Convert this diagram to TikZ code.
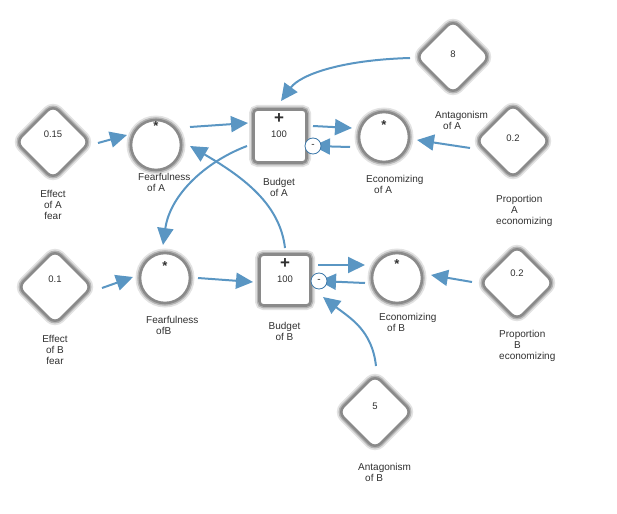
\documentclass[tikz,border=0pt]{standalone}
\usepackage{fontspec}
\setmainfont{Liberation Sans}
\usetikzlibrary{arrows.meta,shapes.geometric}
\pgfdeclarelayer{front}
\pgfsetlayers{main,front}

\definecolor{flowblue}{HTML}{5A96C3}
\definecolor{ringblue}{HTML}{3C78AA}
\definecolor{inkgray}{HTML}{303030}
\definecolor{rimgray}{HTML}{8A8A8A}
\definecolor{halogray}{HTML}{B4B4B4}
\definecolor{mistgray}{HTML}{E2E2E2}

\tikzset{
  rim/.style={fill=white, draw=rimgray, line width=2.6pt, outer sep=0pt, inner sep=0pt,
    preaction={draw=mistgray, line width=9pt},
    preaction={draw=halogray, line width=5.5pt}},
  constnode/.style={rim, diamond, minimum width=74pt, minimum height=74pt, rounded corners=8pt},
  auxnode/.style={rim, circle, minimum size=50pt},
  stocknode/.style={rim, rectangle, minimum width=53pt, minimum height=53pt, rounded corners=4pt},
  negdot/.style={circle, fill=white, draw=ringblue, line width=0.8pt, minimum size=16pt,
    inner sep=0pt, font=\fontsize{10}{10}\selectfont, text=inkgray},
  valtext/.style={inner sep=0pt, font=\fontsize{9.5}{10}\selectfont, text=inkgray},
  symtext/.style={inner sep=0pt, font=\fontsize{13}{13}\selectfont\bfseries, text=inkgray},
  plustext/.style={inner sep=0pt, font=\fontsize{17}{17}\selectfont\bfseries, text=inkgray},
  namelabel/.style={inner sep=0pt, align=left, font=\fontsize{10}{11}\selectfont, text=inkgray},
  flow/.style={draw=flowblue, line width=2pt, -{Triangle[length=17pt,width=16pt]}},
}

\begin{document}
\begin{tikzpicture}[x=1pt,y=-1pt]
\useasboundingbox (0,0) rectangle (617,513);

% model elements
\node[constnode] (effA) at (53,142) {};
\node[auxnode] (fearA) at (156,145) {};
\node[stocknode] (budA) at (280,136) {};
\node[auxnode] (econA) at (384,137) {};
\node[constnode] (antA) at (453,57) {};
\node[constnode] (propA) at (513,141) {};

\node[constnode] (effB) at (55,287) {};
\node[auxnode] (fearB) at (165,278) {};
\node[stocknode, minimum width=51pt, minimum height=51pt] (budB) at (285,280) {};
\node[auxnode] (econB) at (397,278) {};
\node[constnode] (propB) at (517,283) {};
\node[constnode] (antB) at (375,412) {};

% values and operators inside the elements
\node[valtext] (effAv) at ([shift={(0,-8)}]effA.center) {0.15};
\node[valtext] (antAv) at ([shift={(0,-3)}]antA.center) {8};
\node[valtext] (propAv) at ([shift={(0,-3)}]propA.center) {0.2};
\node[valtext] (effBv) at ([shift={(0,-8)}]effB.center) {0.1};
\node[valtext] (propBv) at ([shift={(0,-10)}]propB.center) {0.2};
\node[valtext] (antBv) at ([shift={(0,-6)}]antB.center) {5};

\node[symtext] (fearAs) at ([shift={(0,-19)}]fearA.center) {*};
\node[symtext] (econAs) at ([shift={(0,-12)}]econA.center) {*};
\node[symtext] (fearBs) at ([shift={(0,-12)}]fearB.center) {*};
\node[symtext] (econBs) at ([shift={(0,-14)}]econB.center) {*};

\node[plustext] (budAp) at ([shift={(-1,-17)}]budA.center) {+};
\node[valtext] (budAv) at ([shift={(-1,-2)}]budA.center) {100};
\node[plustext] (budBp) at ([shift={(0,-16)}]budB.center) {+};
\node[valtext] (budBv) at ([shift={(0,-1)}]budB.center) {100};

% outflow markers sit above the connectors
\begin{pgfonlayer}{front}
\node[negdot] (subA) at (313,146) {-};
\node[negdot] (subB) at (319,281) {-};
\end{pgfonlayer}

% names
\node[namelabel, anchor=north, align=center] (effAl) at (53,190.4) {Effect\\of A\\fear};
\node[namelabel, anchor=north west] (fearAl) at (138,173.4) {Fearfulness\\\hspace*{9pt}of A};
\node[namelabel, anchor=north, align=center] (budAl) at (279,178.4) {Budget\\of A};
\node[namelabel, anchor=north west] (econAl) at (366,175.4) {Economizing\\\hspace*{8pt}of A};
\node[namelabel, anchor=north west] (propAl) at (496,195.4) {Proportion\\\hspace*{15pt}A\\economizing};
\node[namelabel, anchor=north west] (antAl) at (435,111.4) {Antagonism\\\hspace*{8pt}of A};

\node[namelabel, anchor=north, align=center] (effBl) at (55,335.4) {Effect\\of B\\fear};
\node[namelabel, anchor=north west] (fearBl) at (146,316.4) {Fearfulness\\\hspace*{10pt}ofB};
\node[namelabel, anchor=north, align=center] (budBl) at (284.5,322.4) {Budget\\of B};
\node[namelabel, anchor=north west] (econBl) at (379,313.4) {Economizing\\\hspace*{8pt}of B};
\node[namelabel, anchor=north west] (propBl) at (499,330.4) {Proportion\\\hspace*{15pt}B\\economizing};
\node[namelabel, anchor=north west] (antBl) at (358,463.4) {Antagonism\\\hspace*{7pt}of B};

% connectors, row A
\draw[flow] ([shift={(45,1)}]effA.center) -- ([shift={(-29,-10)}]fearA.center);
\draw[flow] ([shift={(34,-18)}]fearA.center) -- ([shift={(-32,-13)}]budA.center);
\draw[flow] ([shift={(33,-10)}]budA.center) -- ([shift={(-32,-9)}]econA.center);
\draw[flow] ([shift={(-34,10)}]econA.center) -- (subA.center);
\draw[flow] ([shift={(-43,7)}]propA.center) -- ([shift={(33,3)}]econA.center);
\draw[flow] ([shift={(-43,1)}]antA.center) .. controls +(-70,2) and +(19,-26) .. ([shift={(1,-35)}]budA.center);

% cross connectors
\draw[flow] ([shift={(-33,10)}]budA.center) .. controls +(-42,16) and +(7,-50) .. ([shift={(-2,-33)}]fearB.center);
\draw[flow] ([shift={(0,-32)}]budB.center) .. controls +(-5,-43) and +(55,32) .. ([shift={(34,1)}]fearA.center);

% connectors, row B
\draw[flow] ([shift={(47,1)}]effB.center) -- ([shift={(-32,-1)}]fearB.center);
\draw[flow] ([shift={(33,0)}]fearB.center) -- ([shift={(-32,2)}]budB.center);
\draw[flow] ([shift={(33,-15)}]budB.center) -- ([shift={(-32,-13)}]econB.center);
\draw[flow] ([shift={(-32,5)}]econB.center) -- (subB.center);
\draw[flow] ([shift={(-45,-1)}]propB.center) -- ([shift={(34,-3)}]econB.center);
\draw[flow] ([shift={(1,-46)}]antB.center) .. controls +(-4,-36) and +(27,21) .. ([shift={(38,17)}]budB.center);

\end{tikzpicture}
\end{document}
